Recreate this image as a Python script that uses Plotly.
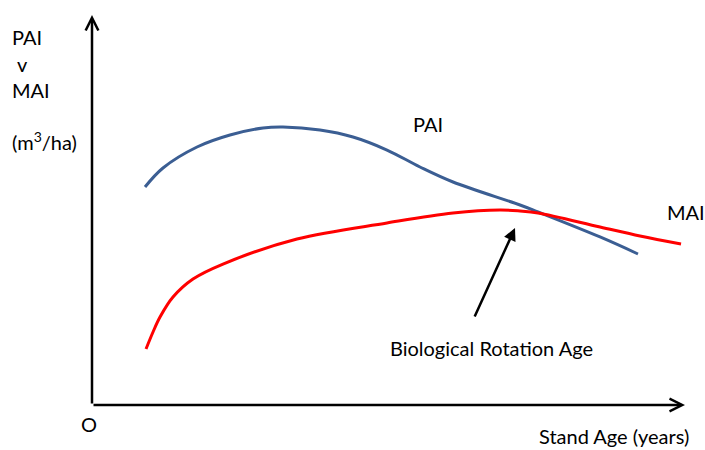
import plotly.graph_objects as go

# Schematic data (arbitrary units: stand age 0-100, increment 0-100)
pai_age = [8.94, 11.97, 17.71, 23.27, 28.84, 32.21, 38.45, 44.01, 49.75, 55.31, 60.88, 72.18, 75.21, 85.67, 92.07]
pai_val = [55.90, 60.77, 66.15, 69.23, 71.03, 71.28, 70.51, 68.72, 65.38, 61.03, 57.18, 51.28, 49.49, 43.08, 38.72]
mai_age = [9.11, 10.29, 11.47, 13.66, 17.03, 22.09, 34.57, 49.75, 60.88, 68.80, 72.18, 75.21, 85.67, 92.41, 99.33]
mai_val = [14.36, 18.72, 22.56, 27.69, 32.31, 36.15, 42.56, 46.67, 49.23, 50.00, 49.74, 49.23, 45.64, 43.33, 41.28]

W, H = 705, 450
L, R, T, B = 92, 20, 15, 45
PW, PH = W - L - R, H - T - B
def fx(px):
    return (px - L) / PW
def fy(py):
    return (H - B - py) / PH

FONT = "Lato"
fig = go.Figure()
fig.add_trace(go.Scatter(x=pai_age, y=pai_val, mode="lines", line=dict(color="#3B5E93", width=3, shape="spline", smoothing=1.0), hoverinfo="skip"))
fig.add_trace(go.Scatter(x=mai_age, y=mai_val, mode="lines", line=dict(color="#FF0000", width=3, shape="spline", smoothing=1.0), hoverinfo="skip"))

ann = []
# axes arrows
ann.append(dict(x=0, y=100, ax=0, ay=0, xref="x", yref="y", axref="x", ayref="y", text="", showarrow=True,
                arrowhead=5, arrowsize=1, arrowwidth=2.5, arrowcolor="black"))
ann.append(dict(x=100, y=0, ax=0, ay=0, xref="x", yref="y", axref="x", ayref="y", text="", showarrow=True,
                arrowhead=5, arrowsize=1, arrowwidth=2.5, arrowcolor="black"))
# rotation-age arrow
ann.append(dict(x=fx(515) * 100, y=fy(228) * 100, ax=fx(474) * 100, ay=fy(318) * 100, xref="x", yref="y", axref="x", ayref="y",
                text="", showarrow=True, arrowhead=2, arrowsize=1, arrowwidth=2.5, arrowcolor="black"))

def txt(t, px, py, xanchor="left"):
    ann.append(dict(x=fx(px), y=fy(py), xref="paper", yref="paper", text=t, showarrow=False, xanchor=xanchor, yanchor="middle",
                    font=dict(family=FONT, size=20, color="black")))

txt("PAI", 10, 37)
txt("v", 15, 64)
txt("MAI", 10, 90)
txt("(m<sup>3</sup>/ha)", 10, 141)
txt("O", 89, 424, "center")
txt("PAI", 428, 124, "center")
txt("MAI", 665, 212)
txt("Biological Rotation Age", 491, 348, "center")
txt("Stand Age (years)", 614, 436, "center")

fig.update_layout(
    width=W, height=H, margin=dict(l=L, r=R, t=T, b=B),
    paper_bgcolor="white", plot_bgcolor="white", showlegend=False,
    xaxis=dict(range=[0, 100], visible=False, fixedrange=True),
    yaxis=dict(range=[0, 100], visible=False, fixedrange=True),
    annotations=ann,
)
fig.write_html("out.html", config={"displayModeBar": False},
               post_script="document.body.style.margin='0';document.body.style.overflow='hidden';")
